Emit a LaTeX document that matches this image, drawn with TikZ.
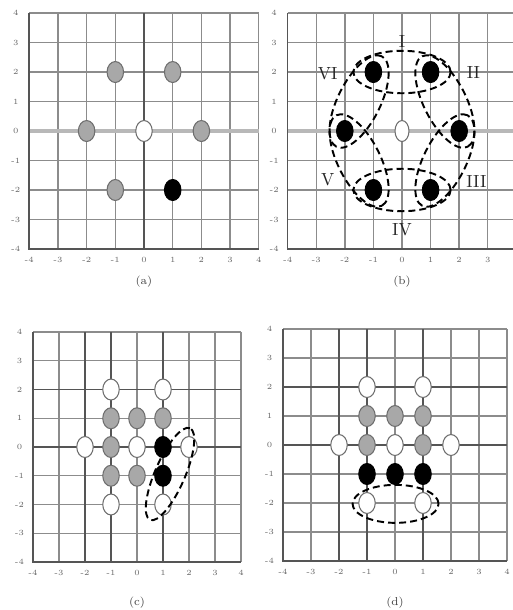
\documentclass[tikz,border=0pt]{standalone}
\usetikzlibrary{shapes.geometric,calc}
\definecolor{crejilla}{HTML}{8C8C8C}
\definecolor{crejillab}{HTML}{555555}
\definecolor{ceje}{HTML}{B8B8B8}
\definecolor{cgrisp}{HTML}{A8A8A8}
\definecolor{cbordep}{HTML}{6E6E6E}
\tikzset{
  rejilla/.style={draw=crejilla,line width=0.8pt},
  rejillab/.style={draw=crejillab,line width=0.9pt},
  ejecero/.style={draw=ceje,line width=2.2pt},
  punto/.style={ellipse,inner sep=0pt,minimum width=3.3mm,minimum height=4.2mm,line width=0.6pt},
  puntog/.style={punto,draw=cbordep,fill=cgrisp},
  puntob/.style={punto,draw=cbordep,fill=white},
  puntobs/.style={puntob,minimum width=2.8mm},
  punton/.style={punto,draw=black,fill=black},
  grupo/.style={draw=black,line width=1.1pt,dash pattern=on 4pt off 2.3pt},
  marca/.style={font=\fontsize{4.5}{5}\selectfont,text=black!60,inner sep=0pt},
  subt/.style={font=\fontsize{6.5}{7}\selectfont,text=black!75,inner sep=0pt},
  romano/.style={font=\fontsize{10}{11}\selectfont,text=black!85,inner sep=0pt},
}
% rejilla -4..4 con sus marcas; #1 = prefijo de los nombres, #2 = marcas del eje x
\newcommand{\rejilla}[2]{%
  \foreach \k in {-4,...,4} {
    \draw[rejilla] (\k,-4) -- (\k,4);
    \draw[rejilla] (-4,\k) -- (4,\k);
    \node[marca,xshift=-0.27cm] (#1y\k) at (-4,\k) {\k};
  }
  \foreach \k in {#2}
    \node[marca,yshift=-0.22cm] (#1x\k) at (\k,-4) {\k};
}

\begin{document}
\begin{tikzpicture}[x=0.02cm,y=-0.02cm]
\useasboundingbox (0,0) rectangle (513,610);

% (a)
\begin{scope}[shift={(144,131)},x=0.574cm,y=0.59cm]
\rejilla{a}{-4,...,4}
\draw[ejecero] (-4,0) -- (4,0);
\draw[rejillab] (0,-4) -- (0,4);
\draw[rejillab] (-4,4) -- (-4,-4) -- (4,-4);
\node[puntog] (a1) at (-1,2) {};
\node[puntog] (a2) at (1,2) {};
\node[puntog] (a3) at (-2,0) {};
\node[puntob] (a4) at (0,0) {};
\node[puntog] (a5) at (2,0) {};
\node[puntog] (a6) at (-1,-2) {};
\node[punton] (a7) at (1,-2) {};
\node[subt] (capa) at (0,-5.12) {(a)};
\end{scope}

% (b)
\begin{scope}[shift={(402,131)},x=0.572cm,y=0.59cm]
\rejilla{b}{-4,...,3}
\draw[ejecero] (-4,0) -- (4,0);
\draw[rejillab] (-4,4) -- (-4,-4) -- (4,-4);
\node[punton] (b1) at (-1,2) {};
\node[punton] (b2) at (1,2) {};
\node[punton] (b3) at (2,0) {};
\node[punton] (b4) at (1,-2) {};
\node[punton] (b5) at (-1,-2) {};
\node[punton] (b6) at (-2,0) {};
\node[puntobs] (b0) at (0,0) {};
\draw[grupo] (0,2) ellipse [x radius=1.7,y radius=0.72];
\draw[grupo,rotate around={-63.43:(1.5,1)}] (1.5,1) ellipse [x radius=1.77,y radius=0.72];
\draw[grupo,rotate around={63.43:(1.5,-1)}] (1.5,-1) ellipse [x radius=1.77,y radius=0.72];
\draw[grupo] (0,-2) ellipse [x radius=1.7,y radius=0.72];
\draw[grupo,rotate around={-63.43:(-1.5,-1)}] (-1.5,-1) ellipse [x radius=1.77,y radius=0.72];
\draw[grupo,rotate around={63.43:(-1.5,1)}] (-1.5,1) ellipse [x radius=1.77,y radius=0.72];
\node[romano] (gI) at (0,3.05) {I};
\node[romano] (gII) at (2.5,2) {II};
\node[romano] (gIII) at (2.6,-1.72) {III};
\node[romano] (gIV) at (0,-3.35) {IV};
\node[romano] (gV) at (-2.6,-1.65) {V};
\node[romano] (gVI) at (-2.6,1.95) {VI};
\node[subt] (capb) at (0,-5.12) {(b)};
\end{scope}

% (c)
\begin{scope}[shift={(137,447)},x=0.52cm,y=0.575cm]
\rejilla{c}{-4,...,4}
\draw[rejillab] (-4,0) -- (4,0);
\draw[rejillab] (-4,2) -- (4,2);
\draw[rejillab] (-2,-4) -- (-2,4);
\draw[rejillab] (-1,-4) -- (-1,4);
\draw[rejillab] (1,-4) -- (1,4);
\draw[rejillab] (-4,4) -- (-4,-4) -- (4,-4);
\node[puntob] (c1) at (-1,2) {};
\node[puntob] (c2) at (1,2) {};
\node[puntog] (c3) at (-1,1) {};
\node[puntog] (c4) at (0,1) {};
\node[puntog] (c5) at (1,1) {};
\node[puntob] (c6) at (-2,0) {};
\node[puntog] (c7) at (-1,0) {};
\node[puntob] (c8) at (0,0) {};
\node[punton] (c9) at (1,0) {};
\node[puntob] (c10) at (2,0) {};
\node[puntog] (c11) at (-1,-1) {};
\node[puntog] (c12) at (0,-1) {};
\node[punton] (c13) at (1,-1) {};
\node[puntob] (c14) at (-1,-2) {};
\node[puntob] (c15) at (1,-2) {};
\draw[grupo,rotate around={66.5:(1.27,-0.94)}] (1.27,-0.94) ellipse [x radius=1.0cm,y radius=0.3cm];
\node[subt] (capc) at (0,-5.4) {(c)};
\end{scope}

% (d)
\begin{scope}[shift={(395,445)},x=0.56cm,y=0.58cm]
\rejilla{d}{-4,...,4}
\draw[rejillab] (-4,0) -- (4,0);
\draw[rejillab] (-4,2) -- (4,2);
\draw[rejillab] (-2,-4) -- (-2,4);
\draw[rejillab] (-1,-4) -- (-1,4);
\draw[rejillab] (1,-4) -- (1,4);
\draw[rejillab] (-4,4) -- (-4,-4) -- (4,-4);
\node[puntob] (d1) at (-1,2) {};
\node[puntob] (d2) at (1,2) {};
\node[puntog] (d3) at (-1,1) {};
\node[puntog] (d4) at (0,1) {};
\node[puntog] (d5) at (1,1) {};
\node[puntob] (d6) at (-2,0) {};
\node[puntog] (d7) at (-1,0) {};
\node[puntob] (d8) at (0,0) {};
\node[puntog] (d9) at (1,0) {};
\node[puntob] (d10) at (2,0) {};
\node[punton] (d11) at (-1,-1) {};
\node[punton] (d12) at (0,-1) {};
\node[punton] (d13) at (1,-1) {};
\node[puntob] (d14) at (-1,-2) {};
\node[puntob] (d15) at (1,-2) {};
\draw[grupo] (0.02,-2.03) ellipse [x radius=0.86cm,y radius=0.38cm];
\node[subt] (capd) at (0,-5.45) {(d)};
\end{scope}

\end{tikzpicture}
\end{document}
